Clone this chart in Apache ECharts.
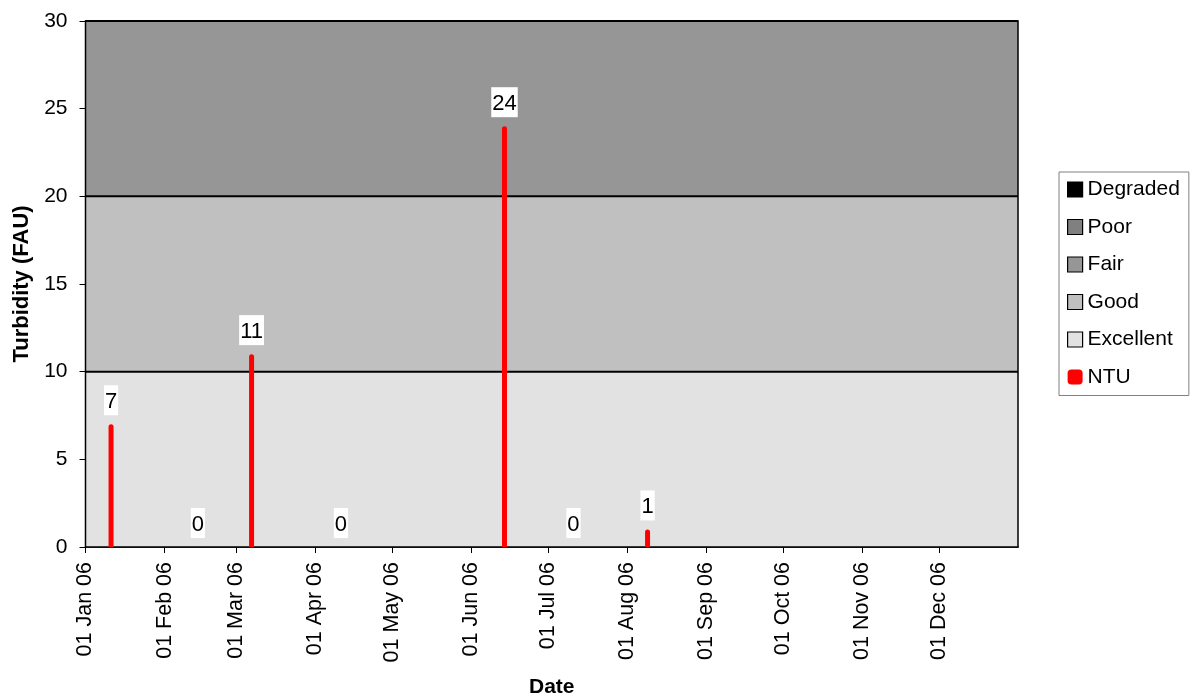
<!DOCTYPE html>
<html>
<head>
<meta charset="utf-8">
<title>Turbidity 2006</title>
<script src="https://cdn.jsdelivr.net/npm/echarts@6/dist/echarts.min.js"></script>
<style>
  html, body { margin: 0; padding: 0; background: #fff; }
  #chart { width: 1193px; height: 700px; }
</style>
</head>
<body>
<div id="chart"></div>
<script>
// Sampling dates and turbidity readings (FAU / NTU)
const sampleDates = ['2006-01-11', '2006-02-14', '2006-03-07', '2006-04-11', '2006-06-14', '2006-07-11', '2006-08-09'];
const ntuValues = [7, 0, 11, 0, 24, 0, 1];

// Water quality classes drawn as stacked bands behind the readings
const bandNames = ['Excellent', 'Good', 'Fair', 'Poor', 'Degraded'];
const bandHeights = [10, 10, 10, 0, 0];
const bandColors = ['#e2e2e2', '#c0c0c0', '#969696', '#808080', '#000000'];
const bandSpan = ['2006-01-01', '2007-01-01'];

// Legend order and y-axis ticks
const legendOrder = ['Degraded', 'Poor', 'Fair', 'Good', 'Excellent', 'NTU'];
const yTicks = { min: 0, max: 30, interval: 5 };

const monthNames = ['Jan', 'Feb', 'Mar', 'Apr', 'May', 'Jun', 'Jul', 'Aug', 'Sep', 'Oct', 'Nov', 'Dec'];
const FONT = '"Liberation Sans", Arial, sans-serif';
const STICK_WIDTH = 5;

const bandSeries = bandNames.map((name, i) => ({
  name: name,
  type: 'line',
  stack: 'bands',
  symbol: 'none',
  silent: true,
  z: 1,
  data: bandSpan.map(d => [d, bandHeights[i]]),
  lineStyle: { color: '#000', width: bandHeights[i] > 0 ? 2 : 0 },
  itemStyle: { color: bandColors[i] },
  areaStyle: { color: bandColors[i], opacity: 1 }
}));

// Each reading is a thin vertical stick from zero up to its value, with a boxed value label
const ntuSeries = {
  name: 'NTU',
  type: 'custom',
  z: 5,
  itemStyle: { color: '#ff0000' },
  encode: { x: 0, y: 1 },
  data: sampleDates.map((d, i) => [d, ntuValues[i]]),
  renderItem: function (params, api) {
    const t = api.value(0);
    const v = api.value(1);
    const base = api.coord([t, 0]);
    const top = api.coord([t, v]);
    const h = base[1] - top[1];
    return {
      type: 'rect',
      shape: {
        x: base[0] - STICK_WIDTH / 2,
        y: top[1],
        width: STICK_WIDTH,
        height: h,
        r: h > 0 ? [STICK_WIDTH / 2, STICK_WIDTH / 2, 0, 0] : 0
      },
      style: { fill: '#ff0000' },
      textContent: {
        style: {
          text: String(v),
          fill: '#000',
          fontFamily: FONT,
          fontSize: 22,
          lineHeight: 25,
          backgroundColor: '#ffffff',
          padding: [4, 1, 1, 1]
        }
      },
      textConfig: { position: 'top', distance: 9 }
    };
  }
};

const chart = echarts.init(document.getElementById('chart'));
chart.setOption({
  animation: false,
  textStyle: { fontFamily: FONT },
  grid: {
    left: 85.5, right: 175, top: 21, bottom: 153,
    outerBoundsMode: 'none',
    containLabel: false,
    show: true, z: 3,
    backgroundColor: 'transparent',
    borderColor: '#000', borderWidth: 1.5
  },
  legend: {
    orient: 'vertical',
    left: 1059, top: 172,
    padding: [7, 9, 8, 8],
    itemGap: 16.5,
    itemWidth: 15, itemHeight: 15,
    backgroundColor: '#fff',
    borderColor: '#808080', borderWidth: 1,
    selectedMode: false,
    textStyle: { fontSize: 21, color: '#000', fontFamily: FONT },
    data: legendOrder.map(name => {
      if (name === 'NTU') {
        return { name: name, icon: 'roundRect', itemStyle: { color: '#ff0000', borderWidth: 0 } };
      }
      const c = bandColors[bandNames.indexOf(name)];
      return { name: name, icon: 'rect', itemStyle: { color: c, borderColor: '#000', borderWidth: 1.2 } };
    })
  },
  xAxis: {
    type: 'time',
    min: bandSpan[0],
    max: bandSpan[1],
    splitNumber: 12,
    minInterval: 28 * 864e5,
    maxInterval: 31 * 864e5,
    name: 'Date',
    nameLocation: 'middle',
    nameGap: 130,
    nameTextStyle: { fontSize: 21, fontWeight: 'bold', color: '#000', fontFamily: FONT },
    axisLine: { lineStyle: { color: '#000', width: 1.5 } },
    axisTick: { show: true, length: 6, lineStyle: { color: '#000' } },
    splitLine: { show: false },
    axisLabel: {
      rotate: 90,
      margin: 15,
      fontSize: 21.5,
      color: '#000',
      fontFamily: FONT,
      hideOverlap: false,
      formatter: function (value) {
        const d = new Date(value);
        if (d.getFullYear() !== 2006) return '';
        const dd = String(d.getDate()).padStart(2, '0');
        return dd + ' ' + monthNames[d.getMonth()] + ' ' + String(d.getFullYear()).slice(2);
      }
    }
  },
  yAxis: {
    type: 'value',
    min: yTicks.min, max: yTicks.max, interval: yTicks.interval,
    name: 'Turbidity (FAU)',
    nameLocation: 'middle',
    nameGap: 48,
    nameTextStyle: { fontSize: 22, fontWeight: 'bold', color: '#000', fontFamily: FONT },
    axisLine: { show: true, lineStyle: { color: '#000', width: 1.5 } },
    axisTick: { show: true, length: 6, lineStyle: { color: '#000' } },
    splitLine: { show: false },
    axisLabel: { margin: 18, fontSize: 21, color: '#000', fontFamily: FONT }
  },
  series: bandSeries.concat([ntuSeries])
});
</script>
</body>
</html>
